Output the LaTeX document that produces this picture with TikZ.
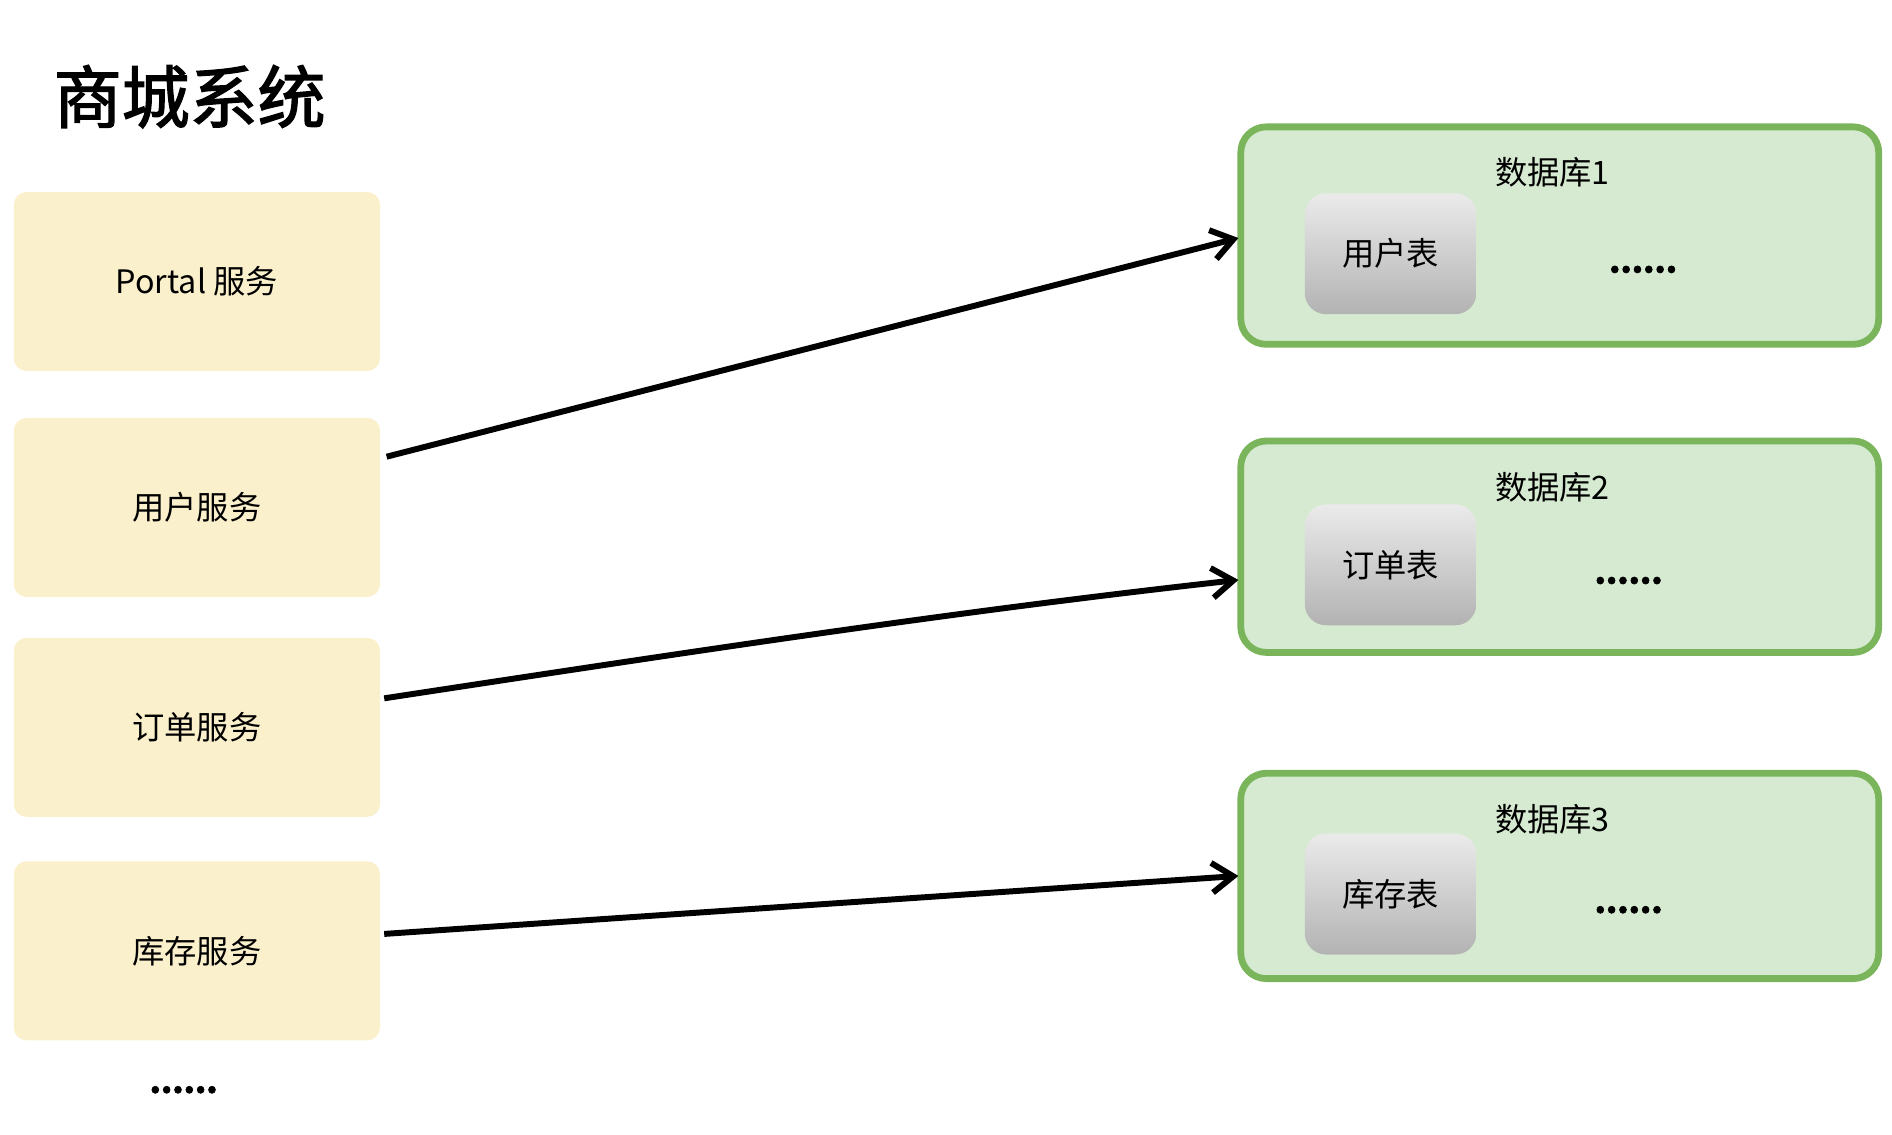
\documentclass[tikz,border=0pt]{standalone}
\usepackage{fontspec}
\setmainfont{Noto Sans CJK SC}
\newfontfamily\cjkbold[FakeBold=2]{Noto Sans CJK SC}
\usetikzlibrary{arrows.meta}
\definecolor{svcfill}{HTML}{FBF0CC}
\definecolor{dbfill}{HTML}{D5EAD0}
\definecolor{dbline}{HTML}{7AB55C}
\tikzset{
	svcbox/.style={fill=svcfill, rounded corners=3pt, minimum width=3.03cm, minimum height=1.48cm, font=\fontsize{7.6pt}{9pt}\selectfont},
	dbbox/.style={fill=dbfill, draw=dbline, line width=1.6pt, rounded corners=6pt},
	tblbox/.style={top color=black!8, bottom color=black!30, rounded corners=5pt, minimum width=1.42cm, minimum height=1cm, font=\fontsize{7.6pt}{9pt}\selectfont},
	dblabel/.style={font=\fontsize{7.6pt}{9pt}\selectfont},
	dotlabel/.style={font=\fontsize{7.6pt}{9pt}\bfseries\cjkbold},
	link/.style={-{Straight Barb[length=5pt,width=7pt]}, line width=1.4pt},
}
\begin{document}
\begin{tikzpicture}[x=0.01cm, y=-0.01cm]

% canvas %{{{2

	\useasboundingbox (0,0) rectangle (1566,939);

% title %{{{2

	\node[anchor=west, font=\fontsize{16pt}{18pt}\cjkbold] (title) at (32,80) {商城系统};

% services %{{{2

	\node[svcbox] (portal) at (163,233) {Portal 服务};
	\node[svcbox] (user) at (163,420) {用户服务};
	\node[svcbox] (order) at (163,602) {订单服务};
	\node[svcbox] (stock) at (163,787) {库存服务};
	\node[dotlabel] (more) at (152,902) {......};

% databases %{{{2

	\foreach \i/\top/\bot/\name/\dx/\ay in {1/105/285/用户表/1360/197, 2/365/540/订单表/1348/480, 3/640/810/库存表/1348/725} {
		\draw[dbbox] (1027,\top) rectangle (1555,\bot);
		\node[dblabel] (db\i) at (1285,\top+38) {数据库\i};
		\node[tblbox] (tbl\i) at (1151,{(\top+\bot)/2+15}) {\name};
		\node[dotlabel] (dots\i) at (\dx,{(\top+\bot)/2+28}) {......};
		\coordinate (in\i) at (1025,\ay);
	}

% links %{{{2

	\draw[link] (320,378) -- (in1);
	\draw[link] (318,578) .. controls (600,535) and (800,505) .. (in2);
	\draw[link] (318,773) -- (in3);

\end{tikzpicture}
\end{document}
